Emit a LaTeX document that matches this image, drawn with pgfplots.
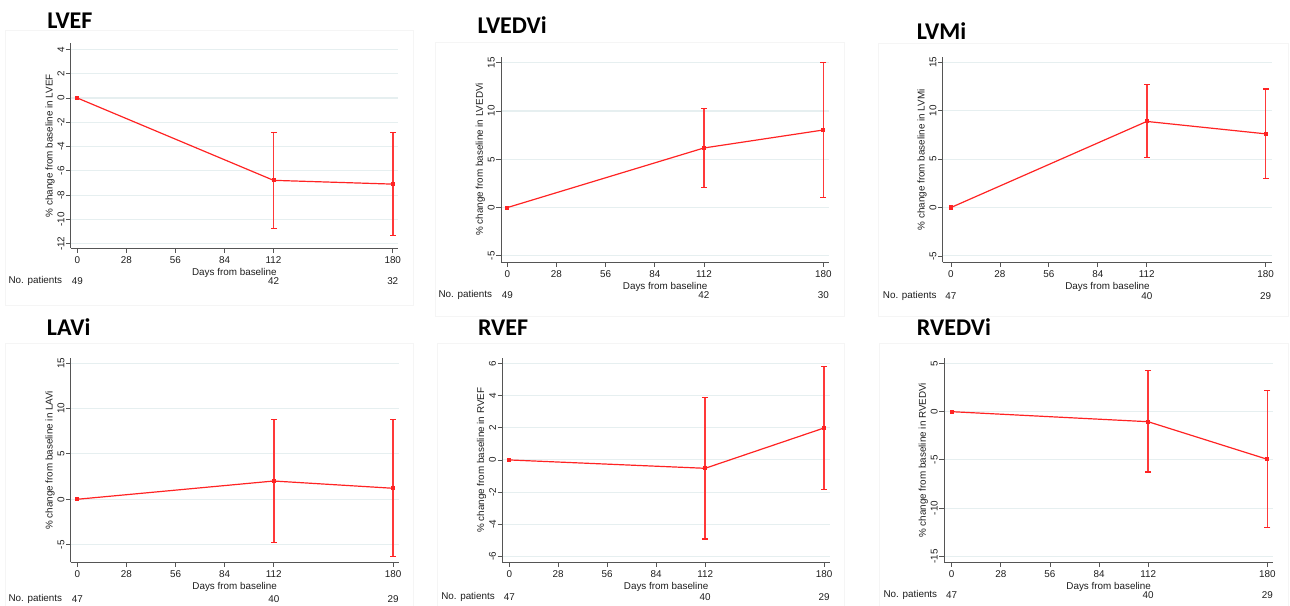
\documentclass[border=0pt]{standalone}
\usepackage{fontspec}
\setmainfont{Liberation Sans}
\newfontfamily\titlefont{Carlito}
\usepackage{pgfplots}
\pgfplotsset{compat=1.18}

\definecolor{gridc}{RGB}{230,239,240}
\definecolor{axc}{RGB}{85,85,85}
\definecolor{txt}{RGB}{30,30,30}
\definecolor{framec}{RGB}{245,245,245}
\definecolor{plotred}{RGB}{255,35,35}

\newcommand{\smallfont}{\fontsize{7.4}{8.5}\selectfont}

\tikzset{
  cnt/.style={font=\smallfont, text=txt, anchor=center, inner sep=0pt},
  ttl/.style={font=\titlefont\bfseries\fontsize{18}{20}\selectfont, anchor=base west, inner sep=0pt},
  np/.style={font=\smallfont, text=txt, anchor=west, inner sep=0pt},
}

\pgfplotsset{
  panel/.style={
    scale only axis, clip=false,
    anchor=south west,
    axis lines*=left,
    axis line style={axc, line width=0.7pt},
    xtick={0,28,56,84,112,180},
    tick align=outside,
    major tick length=3.5pt,
    tick style={axc, line width=0.6pt},
    ymajorgrids,
    major grid style={gridc, line width=0.8pt},
    ticklabel style={font=\smallfont, text=txt},
    yticklabel style={rotate=90, anchor=south, inner sep=1pt},
    xticklabel style={inner sep=1pt, yshift=-1.5pt},
    /pgf/number format/assume math mode=true,
    xlabel={Days from baseline},
    label style={font=\smallfont, text=txt},
    xlabel style={at={(axis description cs:0.5,0)}, anchor=center, yshift=-18.4pt},
    ylabel style={at={(axis description cs:0,0.5)}, anchor=center, yshift=15.5pt},
  },
  mean/.style={draw=plotred, line width=0.9pt, mark=square*, mark size=1.1pt,
    mark options={solid, fill=plotred, draw=plotred}},
  cibar/.style={draw=plotred!90, line width=1.2pt, mark=-, mark size=2.2pt,
    mark options={solid, draw=plotred, line width=0.9pt}},
}

\begin{document}
\begin{tikzpicture}
\path[use as bounding box] (0,0) rectangle (967.5pt,-454.5pt);

% faint panel frames
\draw[framec, line width=0.6pt] (3.75pt,-22.5pt) rectangle (309.75pt,-228.75pt);
\draw[framec, line width=0.6pt] (326.25pt,-32pt) rectangle (633pt,-237.5pt);
\draw[framec, line width=0.6pt] (658.5pt,-32.3pt) rectangle (966pt,-237.5pt);
\draw[framec, line width=0.6pt] (3.75pt,-257.3pt) rectangle (309.75pt,-460pt);
\draw[framec, line width=0.6pt] (327.8pt,-257.3pt) rectangle (633pt,-460pt);
\draw[framec, line width=0.6pt] (659.3pt,-257.3pt) rectangle (966pt,-460pt);

% ---------------- LVEF
\node[ttl] at (35.25pt,-21.75pt) {LVEF};
\begin{axis}[panel, at={(53pt,-186pt)}, width=245.5pt, height=153.5pt,
  xmin=-3.8, xmax=183, ymin=-12.35, ymax=4.5,
  ytick={-12,-10,-8,-6,-4,-2,0,2,4},
  ylabel={\% change from baseline in LVEF}]
\addplot[cibar] coordinates {(112,-10.76) (112,-2.81)};
\addplot[cibar] coordinates {(180,-11.34) (180,-2.83)};
\addplot[mean] coordinates {(0,0) (112,-6.78) (180,-7.09)};
\node[cnt, yshift=-24.75pt] at (axis cs:0,-12.35) {49};
\node[cnt, yshift=-24.75pt] at (axis cs:112,-12.35) {42};
\node[cnt, yshift=-24.75pt] at (axis cs:180,-12.35) {32};
\end{axis}
\node[np] at (6.2pt,-210.75pt) {No. patients};

% ---------------- LVEDVi
\node[ttl] at (358.1pt,-25pt) {LVEDVi};
\begin{axis}[panel, at={(375.75pt,-196.7pt)}, width=246.2pt, height=154.2pt,
  xmin=-3.6, xmax=183.4, ymin=-5.66, ymax=15.62,
  ytick={-5,0,5,10,15},
  ylabel={\% change from baseline in LVEDVi}]
\addplot[cibar] coordinates {(112,2.06) (112,10.28)};
\addplot[cibar] coordinates {(180,1.02) (180,15.04)};
\addplot[mean] coordinates {(0,0) (112,6.17) (180,8.03)};
\node[cnt, yshift=-24.5pt] at (axis cs:0,-5.66) {49};
\node[cnt, yshift=-24.5pt] at (axis cs:112,-5.66) {42};
\node[cnt, yshift=-24.5pt] at (axis cs:180,-5.66) {30};
\end{axis}
\node[np] at (328.7pt,-221.25pt) {No. patients};

% ---------------- LVMi
\node[ttl] at (687.5pt,-29.5pt) {LVMi};
\begin{axis}[panel, at={(707pt,-196.7pt)}, width=247.2pt, height=153.75pt,
  xmin=-4.75, xmax=183.8, ymin=-5.65, ymax=15.5,
  ytick={-5,0,5,10,15},
  ylabel={\% change from baseline in LVMi}]
\addplot[cibar] coordinates {(112,5.16) (112,12.66)};
\addplot[cibar] coordinates {(180,2.99) (180,12.22)};
\addplot[mean] coordinates {(0,0) (112,8.88) (180,7.60)};
\node[cnt, yshift=-25.3pt] at (axis cs:0,-5.65) {47};
\node[cnt, yshift=-25.3pt] at (axis cs:112,-5.65) {40};
\node[cnt, yshift=-25.3pt] at (axis cs:180,-5.65) {29};
\end{axis}
\node[np] at (662pt,-222pt) {No. patients};

% ---------------- LAVi
\node[ttl] at (35pt,-251.25pt) {LAVi};
\begin{axis}[panel, at={(53pt,-421.7pt)}, width=246pt, height=153pt,
  xmin=-3.8, xmax=183.2, ymin=-6.94, ymax=15.53,
  ytick={-5,0,5,10,15},
  ylabel={\% change from baseline in LAVi}]
\addplot[cibar] coordinates {(112,-4.74) (112,8.77)};
\addplot[cibar] coordinates {(180,-6.32) (180,8.77)};
\addplot[mean] coordinates {(0,0) (112,2.01) (180,1.21)};
\node[cnt, yshift=-27.75pt] at (axis cs:0,-6.94) {47};
\node[cnt, yshift=-27.75pt] at (axis cs:112,-6.94) {40};
\node[cnt, yshift=-27.75pt] at (axis cs:180,-6.94) {29};
\end{axis}
\node[np] at (6.2pt,-449.5pt) {No. patients};

% ---------------- RVEF
\node[ttl] at (358.3pt,-251.25pt) {RVEF};
\begin{axis}[panel, at={(376.7pt,-421.7pt)}, width=245.8pt, height=153pt,
  xmin=-4, xmax=183.4, ymin=-6.37, ymax=6.33,
  ytick={-6,-4,-2,0,2,4,6},
  ylabel={\% change from baseline in RVEF}]
\addplot[cibar] coordinates {(112,-4.92) (112,3.88)};
\addplot[cibar] coordinates {(180,-1.85) (180,5.81)};
\addplot[mean] coordinates {(0,0) (112,-0.52) (180,1.99)};
\node[cnt, yshift=-25.8pt] at (axis cs:0,-6.37) {47};
\node[cnt, yshift=-25.8pt] at (axis cs:112,-6.37) {40};
\node[cnt, yshift=-25.8pt] at (axis cs:180,-6.37) {29};
\end{axis}
\node[np] at (330.75pt,-447.5pt) {No. patients};

% ---------------- RVEDVi
\node[ttl] at (687.5pt,-251.25pt) {RVEDVi};
\begin{axis}[panel, at={(708pt,-421.7pt)}, width=247pt, height=153pt,
  xmin=-4.4, xmax=183.4, ymin=-15.62, ymax=5.54,
  ytick={-15,-10,-5,0,5},
  ylabel={\% change from baseline in RVEDVi}]
\addplot[cibar] coordinates {(112,-6.26) (112,4.25)};
\addplot[cibar] coordinates {(180,-12.03) (180,2.18)};
\addplot[mean] coordinates {(0,0) (112,-1.04) (180,-4.94)};
\node[cnt, yshift=-24.75pt] at (axis cs:0,-15.62) {47};
\node[cnt, yshift=-24.75pt] at (axis cs:112,-15.62) {40};
\node[cnt, yshift=-24.75pt] at (axis cs:180,-15.62) {29};
\end{axis}
\node[np] at (662.5pt,-446.5pt) {No. patients};

\end{tikzpicture}
\end{document}
